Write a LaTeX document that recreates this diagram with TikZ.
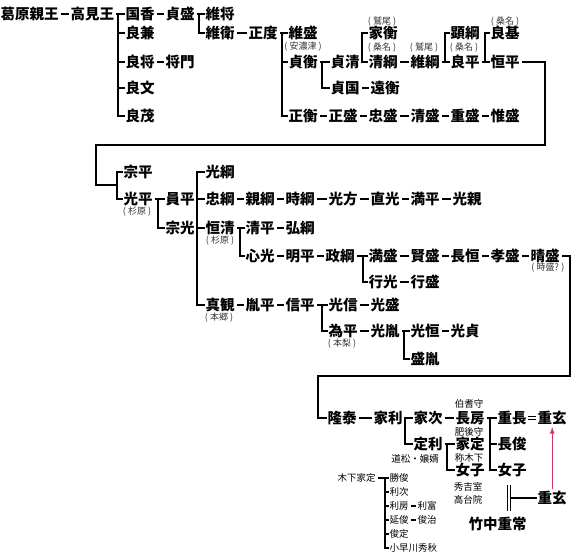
\documentclass[tikz,border=0pt]{standalone}
\usepackage{fontspec}
\newfontfamily\jp{Noto Sans CJK JP}
\usetikzlibrary{arrows.meta}
\definecolor{mpink}{rgb}{0.82,0.2,0.42}
\tikzset{nm/.style = {anchor=west, inner sep=0.5pt,
                      font=\jp\bfseries\fontsize{14.5}{15}\selectfont}}
\tikzset{sm/.style = {anchor=west, inner sep=0.5pt,
                      font=\jp\fontsize{9.5}{10}\selectfont}}
\tikzset{note/.style = {inner sep=0pt, text=black!80,
                        font=\jp\fontsize{9}{10}\selectfont}}
\tikzset{tie/.style = {line width=2.2pt}}
\tikzset{twig/.style = {line width=1.3pt}}
\tikzset{desc/.style = {tie, shorten <=1.5pt, shorten >=1.5pt}}
\tikzset{adopt/.style = {double, double distance=2.6pt, line width=0.9pt,
                         shorten <=1pt, shorten >=1pt}}
\tikzset{wed/.style = {line width=1pt}}

\begin{document}
\begin{tikzpicture}[x=1pt,y=-1pt]
  \useasboundingbox (0,0) rectangle (574,553);

  % --- first block
  \node[nm] (kazurahara) at (0,14) {葛原親王};
  \node[nm] (takami) at (70,14) {高見王};
  \node[nm] (kunika) at (125,14) {国香};
  \node[nm] (yoshikane) at (125,33) {良兼};
  \node[nm] (yoshimasa) at (125,62) {良将};
  \node[nm] (yoshifumi) at (125,88) {良文};
  \node[nm] (yoshimochi) at (125,116) {良茂};
  \node[nm] (masakado) at (165,62) {将門};
  \node[nm] (sadamori) at (165,14) {貞盛};
  \node[nm] (koremasa) at (205,14) {維将};
  \node[nm] (korehira) at (205,33) {維衛};
  \node[nm] (masanori) at (248,33) {正度};
  \node[nm] (koremoriA) at (288,33) {維盛};
  \node[nm] (sadahira) at (288,62) {貞衡};
  \node[nm] (masahira) at (288,116) {正衡};
  \node[nm] (sadakiyo) at (330,62) {貞清};
  \node[nm] (sadakuni) at (330,88) {貞国};
  \node[nm] (tohira) at (370,88) {遠衡};
  \node[nm] (iehira) at (368,33) {家衡};
  \node[nm] (kiyotsuna) at (368,62) {清綱};
  \node[nm] (koretsuna) at (410,62) {維綱};
  \node[nm] (akitsuna) at (450,33) {顕綱};
  \node[nm] (yoshihira) at (450,62) {良平};
  \node[nm] (yoshimoto) at (490,33) {良基};
  \node[nm] (tsunehira) at (490,62) {恒平};
  \node[nm] (masamori) at (328,116) {正盛};
  \node[nm] (tadamori) at (368,116) {忠盛};
  \node[nm] (kiyomori) at (410,116) {清盛};
  \node[nm] (shigemori) at (450,116) {重盛};
  \node[nm] (koremori) at (490,116) {惟盛};
  \node[note] (anotsu) at (303,47) {( 安濃津 )};
  \node[note] (washioA) at (382,22) {( 鷲尾 )};
  \node[note] (kuwanaA) at (382,48) {( 桑名 )};
  \node[note] (washioB) at (424,48) {( 鷲尾 )};
  \node[note] (kuwanaB) at (464,48) {( 桑名 )};
  \node[note] (kuwanaC) at (505,22) {( 桑名 )};

  \coordinate (b1) at (118,116);
  \coordinate (b2) at (199,33);
  \coordinate (b3) at (282,116);
  \coordinate (b4) at (322,88);
  \coordinate (b5) at (362,33);
  \coordinate (b6) at (445,33);
  \coordinate (b7) at (485,33);
  \coordinate (wrapA) at (545,145);
  \coordinate (wrapB) at (96,185);

  \draw[desc] (kazurahara) -- (takami);
  \draw[tie, shorten <=1.5pt] (takami) -- (kunika);
  \draw[tie] (kunika.west) -| (b1) -- (yoshimochi.west);
  \draw[tie] (yoshikane.west) -- (yoshikane.west -| b1);
  \draw[tie] (yoshimasa.west) -- (yoshimasa.west -| b1);
  \draw[tie] (yoshifumi.west) -- (yoshifumi.west -| b1);
  \draw[desc] (yoshimasa) -- (masakado);
  \draw[desc] (kunika) -- (sadamori);
  \draw[tie, shorten <=1.5pt] (sadamori) -- (koremasa);
  \draw[tie] (koremasa.west) -| (b2) -- (korehira.west);
  \draw[desc] (korehira) -- (masanori);
  \draw[tie, shorten <=1.5pt] (masanori) -- (koremoriA);
  \draw[tie] (koremoriA.west) -| (b3) -- (masahira.west);
  \draw[tie] (sadahira.west) -- (sadahira.west -| b3);
  \draw[tie, shorten <=1.5pt] (sadahira) -- (sadakiyo);
  \draw[tie] (sadakiyo.west) -| (b4) -- (sadakuni.west);
  \draw[desc] (sadakuni) -- (tohira);
  \draw[tie, shorten <=1.5pt] (sadakiyo) -- (kiyotsuna);
  \draw[tie] (kiyotsuna.west) -| (b5) -- (iehira.west);
  \draw[desc] (kiyotsuna) -- (koretsuna);
  \draw[tie, shorten <=1.5pt] (koretsuna) -- (yoshihira);
  \draw[tie] (yoshihira.west) -| (b6) -- (akitsuna.west);
  \draw[tie, shorten <=1.5pt] (yoshihira) -- (tsunehira);
  \draw[tie] (tsunehira.west) -| (b7) -- (yoshimoto.west);
  \draw[desc] (masahira) -- (masamori);
  \draw[desc] (masamori) -- (tadamori);
  \draw[desc] (tadamori) -- (kiyomori);
  \draw[desc] (kiyomori) -- (shigemori);
  \draw[desc] (shigemori) -- (koremori);

  % --- second block
  \node[nm] (munehira) at (123,172) {宗平};
  \node[nm] (mitsuhira) at (123,199) {光平};
  \node[nm] (kazuhira) at (165,199) {員平};
  \node[nm] (munemitsu) at (165,228) {宗光};
  \node[nm] (mitsutsuna) at (205,172) {光綱};
  \node[nm] (tadatsuna) at (205,199) {忠綱};
  \node[nm] (chikatsuna) at (245,199) {親綱};
  \node[nm] (tokitsuna) at (285,199) {時綱};
  \node[nm] (mitsukata) at (328,199) {光方};
  \node[nm] (naomitsu) at (370,199) {直光};
  \node[nm] (mitsuhiraB) at (410,199) {満平};
  \node[nm] (mitsuchika) at (452,199) {光親};
  \node[nm] (tsunekiyo) at (205,228) {恒清};
  \node[nm] (kiyohira) at (245,228) {清平};
  \node[nm] (hirotsuna) at (285,228) {弘綱};
  \node[nm] (shinko) at (245,256) {心光};
  \node[nm] (akihira) at (285,256) {明平};
  \node[nm] (masatsuna) at (325,256) {政綱};
  \node[nm] (mitsumori) at (368,256) {満盛};
  \node[nm] (katamori) at (410,256) {賢盛};
  \node[nm] (nagatsune) at (450,256) {長恒};
  \node[nm] (takamori) at (490,256) {孝盛};
  \node[nm] (harumori) at (530,256) {晴盛};
  \node[nm] (yukimitsu) at (368,282) {行光};
  \node[nm] (yukimori) at (410,282) {行盛};
  \node[nm] (shinkan) at (205,305) {真観};
  \node[nm] (tanehira) at (245,305) {胤平};
  \node[nm] (nobuhira) at (285,305) {信平};
  \node[nm] (mitsunobu) at (328,305) {光信};
  \node[nm] (mitsumoriB) at (370,305) {光盛};
  \node[nm] (tamehira) at (328,331) {為平};
  \node[nm] (mitsutane) at (370,331) {光胤};
  \node[nm] (mitsutsune) at (410,331) {光恒};
  \node[nm] (mitsusada) at (450,331) {光貞};
  \node[nm] (moritane) at (410,359) {盛胤};
  \node[note] (sugiharaA) at (137,212) {( 杉原 )};
  \node[note] (sugiharaB) at (220,241) {( 杉原 )};
  \node[note] (tokimori) at (548,268) {( 時盛? )};
  \node[note] (hongo) at (219,318) {( 本郷 )};
  \node[note] (honnashi) at (342,344) {( 本梨 )};

  \coordinate (b8) at (117,199);
  \coordinate (b9) at (158,228);
  \coordinate (b10) at (197,305);
  \coordinate (b11) at (240,256);
  \coordinate (b12) at (363,282);
  \coordinate (b13) at (322,331);
  \coordinate (b14) at (404,359);
  \coordinate (wrapC) at (570,376);
  \coordinate (wrapD) at (318,418);

  \draw[tie, shorten <=1.5pt] (tsunehira.east) -| (wrapA) -| (wrapB) -- (wrapB -| b8);
  \draw[tie] (munehira.west) -| (b8) -- (mitsuhira.west);
  \draw[tie, shorten <=1.5pt] (mitsuhira) -- (kazuhira);
  \draw[tie] (kazuhira.west) -| (b9) -- (munemitsu.west);
  \draw[tie, shorten <=1.5pt] (kazuhira) -- (tadatsuna);
  \draw[tie] (mitsutsuna.west) -| (b10) -- (shinkan.west);
  \draw[tie] (tsunekiyo.west) -- (tsunekiyo.west -| b10);
  \draw[desc] (tadatsuna) -- (chikatsuna);
  \draw[desc] (chikatsuna) -- (tokitsuna);
  \draw[desc] (tokitsuna) -- (mitsukata);
  \draw[desc] (mitsukata) -- (naomitsu);
  \draw[desc] (naomitsu) -- (mitsuhiraB);
  \draw[desc] (mitsuhiraB) -- (mitsuchika);
  \draw[tie, shorten <=1.5pt] (tsunekiyo) -- (kiyohira);
  \draw[tie] (kiyohira.west) -| (b11) -- (shinko.west);
  \draw[desc] (kiyohira) -- (hirotsuna);
  \draw[desc] (shinko) -- (akihira);
  \draw[desc] (akihira) -- (masatsuna);
  \draw[tie, shorten <=1.5pt] (masatsuna) -- (mitsumori);
  \draw[tie] (mitsumori.west) -| (b12) -- (yukimitsu.west);
  \draw[desc] (yukimitsu) -- (yukimori);
  \draw[desc] (mitsumori) -- (katamori);
  \draw[desc] (katamori) -- (nagatsune);
  \draw[desc] (nagatsune) -- (takamori);
  \draw[desc] (takamori) -- (harumori);
  \draw[desc] (shinkan) -- (tanehira);
  \draw[desc] (tanehira) -- (nobuhira);
  \draw[tie, shorten <=1.5pt] (nobuhira) -- (mitsunobu);
  \draw[tie] (mitsunobu.west) -| (b13) -- (tamehira.west);
  \draw[desc] (mitsunobu) -- (mitsumoriB);
  \draw[desc] (tamehira) -- (mitsutane);
  \draw[tie, shorten <=1.5pt] (mitsutane) -- (mitsutsune);
  \draw[tie] (mitsutsune.west) -| (b14) -- (moritane.west);
  \draw[desc] (mitsutsune) -- (mitsusada);

  % --- third block
  \node[nm] (takayasu) at (327,418) {隆泰};
  \node[nm] (ietoshi) at (373,418) {家利};
  \node[nm] (ietsugu) at (413,418) {家次};
  \node[nm] (nagafusa) at (455,418) {長房};
  \node[nm] (shigenaga) at (497,418) {重長};
  \node[nm] (shigeharu) at (537,418) {重玄};
  \node[nm] (sadatoshi) at (413,444) {定利};
  \node[nm] (iesada) at (455,444) {家定};
  \node[nm] (nyoshiA) at (455,470) {女子};
  \node[nm] (nagatoshi) at (497,444) {長俊};
  \node[nm] (nyoshiB) at (497,470) {女子};
  \node[nm] (shigeharuB) at (537,498) {重玄};
  \node[nm] (shigetsune) at (468,524) {竹中重常};
  \node[sm, anchor=center] (hoki) at (469,404) {伯耆守};
  \node[sm, anchor=center] (higo) at (469,432) {肥後守};
  \node[sm, anchor=center] (shokinoshita) at (469,458) {称木下};
  \node[sm, anchor=center] (hideyoshi) at (468,487) {秀吉室};
  \node[sm, anchor=center] (kodaiin) at (468,500) {高台院};
  \node[sm, anchor=center] (dosho) at (415,459) {道松・嬢婿};
  \node[sm] (kinoshita) at (337,478) {木下家定};
  \node[sm] (katsutoshi) at (389,478) {勝俊};
  \node[sm] (toshitsugu) at (389,492) {利次};
  \node[sm] (toshifusa) at (389,506) {利房};
  \node[sm] (toshitomi) at (417,506) {利富};
  \node[sm] (nobutoshi) at (389,520) {延俊};
  \node[sm] (toshiharu) at (417,520) {俊治};
  \node[sm] (toshisada) at (389,534) {俊定};
  \node[sm] (hideaki) at (389,548) {小早川秀秋};

  \coordinate (b15) at (405,444);
  \coordinate (b16) at (490,470);
  \coordinate (b17) at (447,470);
  \coordinate (b18) at (385,548);
  \coordinate (wedA) at (507,485);
  \coordinate (wedB) at (507,511);
  \coordinate (wedC) at (510.5,485);
  \coordinate (wedD) at (510.5,511);
  \coordinate (wedM) at (510,498);

  \draw[tie, shorten <=1.5pt] (harumori.east) -| (wrapC) -| (wrapD) -- (takayasu.west);
  \draw[desc] (takayasu) -- (ietoshi);
  \draw[tie, shorten <=1.5pt] (ietoshi) -- (ietsugu);
  \draw[tie] (ietsugu.west) -| (b15) -- (sadatoshi.west);
  \draw[desc] (ietsugu) -- (nagafusa);
  \draw[tie, shorten <=1.5pt] (nagafusa) -- (shigenaga);
  \draw[tie] (shigenaga.west) -| (b16) -- (nyoshiB.west);
  \draw[tie] (nagatoshi.west) -- (nagatoshi.west -| b16);
  \draw[adopt] (shigenaga) -- (shigeharu);
  \draw[tie, shorten <=1.5pt] (sadatoshi) -- (iesada);
  \draw[tie] (iesada.west) -| (b17) -- (nyoshiA.west);
  \draw[wed] (wedA) -- (wedB);
  \draw[wed] (wedC) -- (wedD);
  \draw[tie] (wedM) -- (shigeharuB.west);
  \draw[mpink, line width=1.2pt, -{Latex[length=7pt,width=5pt]},
        shorten <=1pt, shorten >=1pt] (shigeharuB) -- (shigeharu);
  \draw[twig, shorten <=1.5pt] (kinoshita) -- (katsutoshi);
  \draw[twig] (katsutoshi.west) -| (b18) -- (hideaki.west);
  \draw[twig] (toshitsugu.west) -- (toshitsugu.west -| b18);
  \draw[twig] (toshifusa.west) -- (toshifusa.west -| b18);
  \draw[twig] (nobutoshi.west) -- (nobutoshi.west -| b18);
  \draw[twig] (toshisada.west) -- (toshisada.west -| b18);
  \draw[twig, shorten <=1.5pt, shorten >=1.5pt] (toshifusa) -- (toshitomi);
  \draw[twig, shorten <=1.5pt, shorten >=1.5pt] (nobutoshi) -- (toshiharu);
\end{tikzpicture}
\end{document}
